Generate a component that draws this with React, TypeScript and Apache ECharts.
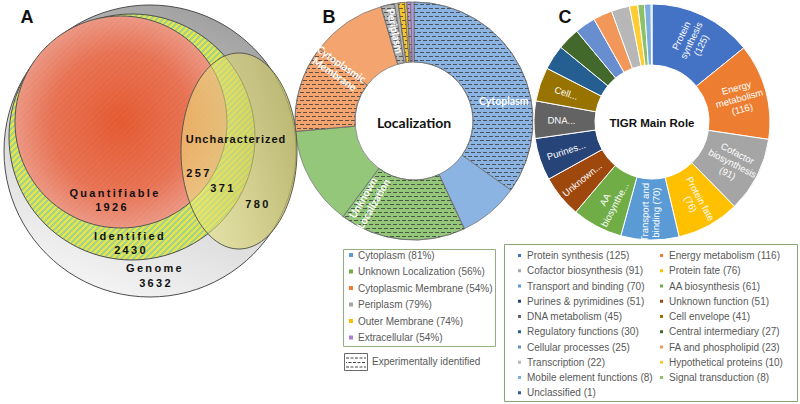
import React, { useEffect, useRef } from 'react';
import * as echarts from 'echarts';

// ---------- Panel A : Venn ----------
const VENN_NAMES = ['Genome', 'Identified', 'Quantifiable', 'Uncharacterized'];
const VENN_TOTALS = [3632, 2430, 1926];
const UNCHAR_SPLIT = [257, 371, 780];

// ---------- Panel B : Localization ----------
const LOC_NAMES = ['Cytoplasm', 'Unknown Localization', 'Cytoplasmic Membrane', 'Periplasm', 'Outer Membrane', 'Extracellular'];
const LOC_LABELS = ['Cytoplasm', 'Unknown\nLocalization', 'Cytoplasmic\nMembrane', 'Periplasm', '', ''];
const LOC_PCT = [81, 56, 54, 79, 74, 54];
const LOC_IDENTIFIED = [1267, 622, 430, 67, 31, 19];
const LOC_UNIDENTIFIED = [297, 488, 367, 18, 11, 16];
const LOC_COLORS = ['#8cb4e2', '#95c77a', '#f4a46e', '#b3b3b3', '#f7c52a', '#b79bd8'];
const LOC_LEGEND_COLORS = ['#5b9bd5', '#70ad47', '#ed7d31', '#a5a5a5', '#ffc000', '#a97fd0'];

// ---------- Panel C : TIGR main role (pie order) ----------
const ROLE_NAMES = ['Protein synthesis', 'Energy metabolism', 'Cofactor biosynthesis', 'Protein fate', 'Transport and binding', 'AA biosynthesis', 'Unknown function', 'Purines & pyrimidines', 'DNA metabolism', 'Cell envelope', 'Regulatory functions', 'Central intermediary', 'Cellular processes', 'FA and phospholipid', 'Transcription', 'Hypothetical proteins', 'Signal transduction', 'Mobile element functions', 'Unclassified'];
const ROLE_COUNTS = [125, 116, 91, 76, 70, 61, 51, 51, 45, 41, 30, 27, 25, 23, 22, 10, 8, 8, 1];
const ROLE_COLORS = ['#4472c4', '#ed7d31', '#a5a5a5', '#ffc000', '#5b9bd5', '#70ad47', '#9e480e', '#264478', '#636363', '#997300', '#255e91', '#43682b', '#698ed0', '#f1975a', '#b7b7b7', '#ffcd33', '#8cc168', '#7cafdd', '#335aa1'];
const ROLE_LABELS = ['Protein\nsynthesis\n(125)', 'Energy\nmetabolism\n(116)', 'Cofactor\nbiosynthesis\n(91)', 'Protein fate\n(76)', 'Transport and\nbinding (70)', 'AA\nbiosynthe...', 'Unknown...', 'Purines...', 'DNA...', 'Cell...', '', '', '', '', '', '', '', '', ''];
const ROLE_LEGEND_ORDER = ['Protein synthesis', 'Energy metabolism', 'Cofactor biosynthesis', 'Protein fate', 'Transport and binding', 'AA biosynthesis', 'Purines & pyrimidines', 'Unknown function', 'DNA metabolism', 'Cell envelope', 'Regulatory functions', 'Central intermediary', 'Cellular processes', 'FA and phospholipid', 'Transcription', 'Hypothetical proteins', 'Mobile element functions', 'Signal transduction', 'Unclassified'];

const roleName = (n: string) => `${n} (${ROLE_COUNTS[ROLE_NAMES.indexOf(n)]})`;
const locName = (i: number) => `${LOC_NAMES[i]} (${LOC_PCT[i]}%)`;

export default function App() {
  const ref = useRef<HTMLDivElement>(null);

  useEffect(() => {
    document.body.style.margin = '0';
    const el = ref.current!;
    const chart = echarts.init(el, null, { renderer: 'svg' });

    // stripe pattern for "Identified"
    const cv = document.createElement('canvas');
    cv.width = 6; cv.height = 6;
    const ctx = cv.getContext('2d')!;
    const img = ctx.createImageData(6, 6);
    for (let y = 0; y < 6; y++) {
      for (let x = 0; x < 6; x++) {
        const i = (y * 6 + x) * 4;
        const g = (x + y) % 6 < 3;
        img.data[i] = g ? 165 : 232;
        img.data[i + 1] = g ? 210 : 230;
        img.data[i + 2] = g ? 142 : 70;
        img.data[i + 3] = 255;
      }
    }
    ctx.putImageData(img, 0, 0);
    const stripe: any = { image: cv, repeat: 'repeat', imageWidth: 6, imageHeight: 6 };

    const hatch: any = {
      symbol: 'rect', symbolSize: 1,
      dashArrayX: [[4, 2], [1, 2, 3, 0]], dashArrayY: [1, 3],
      color: 'rgba(50,50,50,0.75)', rotation: 0,
    };

    const txt = (text: string, x: number, y: number, size: number, extra: any = {}) => ({
      type: 'text', z: 50,
      style: {
        text, x, y, fontSize: size, fontWeight: 'bold', fontFamily: 'Liberation Sans, Arial',
        fill: '#111', align: 'center', verticalAlign: 'middle', textAlign: 'center', textVerticalAlign: 'middle', ...extra,
      },
    });

    const genomeGrad = { type: 'linear', x: 0.75, y: 0, x2: 0.35, y2: 1, colorStops: [{ offset: 0, color: '#9c9c9c' }, { offset: 0.55, color: '#d4d4d4' }, { offset: 1, color: '#f4f4f4' }] };
    const redGrad = { type: 'radial', x: 0.5, y: 0.5, r: 0.55, colorStops: [{ offset: 0, color: '#e8492a' }, { offset: 0.6, color: '#ec6552' }, { offset: 1, color: '#f29a98' }] };
    const ellGrad = { type: 'linear', x: 0, y: 0, x2: 1, y2: 0, colorStops: [{ offset: 0, color: 'rgba(242,238,130,0.5)' }, { offset: 1, color: 'rgba(190,185,90,0.72)' }] };

    const graphics: any[] = [
      { type: 'circle', z: 1, shape: { cx: 150, cy: 151, r: 146 }, style: { fill: genomeGrad, stroke: '#4d4d4d', lineWidth: 1 } },
      { type: 'circle', z: 2, shape: { cx: 132, cy: 137, r: 123 }, style: { fill: stripe, stroke: '#4d4d4d', lineWidth: 1 } },
      { type: 'circle', z: 3, shape: { cx: 121, cy: 122, r: 106 }, style: { fill: redGrad, stroke: '#4d4d4d', lineWidth: 1 } },
      { type: 'circle', z: 4, shape: { cx: 121, cy: 122, r: 106 }, style: { fill: stripe, opacity: 0.12 } },
      { type: 'ellipse', z: 5, shape: { cx: 239, cy: 151, rx: 58, ry: 98 }, style: { fill: ellGrad, stroke: '#5a5a4a', lineWidth: 1 } },
      txt(VENN_NAMES[3], 236, 139, 11),
      txt(String(UNCHAR_SPLIT[0]), 199, 173, 11),
      txt(String(UNCHAR_SPLIT[1]), 223, 188, 11),
      txt(String(UNCHAR_SPLIT[2]), 258, 204, 11),
      txt(VENN_NAMES[2], 115, 193, 11),
      txt(String(VENN_TOTALS[2]), 112, 207, 11),
      txt(VENN_NAMES[1], 130, 236, 11),
      txt(String(VENN_TOTALS[1]), 131, 250, 11),
      txt(VENN_NAMES[0], 155, 268, 11),
      txt(String(VENN_TOTALS[0]), 156, 283, 11),
      txt('A', 27, 17, 18),
      txt('B', 329, 17, 18),
      txt('C', 565, 17, 18),
      txt('Localization', 414, 122, 14, { fontFamily: 'Lato' }),
      txt('TIGR Main Role', 652, 123, 11.5),
      // legend boxes
      { type: 'rect', z: 1, shape: { x: 343.5, y: 249.5, width: 152, height: 97 }, style: { fill: 'none', stroke: '#93ae7f', lineWidth: 1 } },
      { type: 'rect', z: 1, shape: { x: 504.5, y: 244.5, width: 293, height: 157 }, style: { fill: 'none', stroke: '#87a572', lineWidth: 1 } },
      // experimentally identified icon
      { type: 'rect', z: 1, shape: { x: 344.5, y: 353.5, width: 23, height: 17 }, style: { fill: '#fff', stroke: '#444', lineWidth: 0.8 } },
      { type: 'line', z: 2, shape: { x1: 346, y1: 358, x2: 366, y2: 358 }, style: { stroke: '#444', lineWidth: 1, lineDash: [3, 1.5] } },
      { type: 'line', z: 2, shape: { x1: 346, y1: 362.5, x2: 366, y2: 362.5 }, style: { stroke: '#444', lineWidth: 1, lineDash: [3, 1.5], lineDashOffset: 2 } },
      { type: 'line', z: 2, shape: { x1: 346, y1: 367, x2: 366, y2: 367 }, style: { stroke: '#444', lineWidth: 1, lineDash: [3, 1.5] } },
      { type: 'text', z: 2, style: { text: 'Experimentally identified', x: 372, y: 361, fontSize: 10, fontFamily: 'Liberation Sans, Arial', fill: '#595959', align: 'left', verticalAlign: 'middle', textAlign: 'left', textVerticalAlign: 'middle' } },
    ];

    const locData: any[] = [];
    LOC_NAMES.forEach((n, i) => {
      locData.push({ name: `${n} identified`, value: LOC_IDENTIFIED[i], itemStyle: { color: LOC_COLORS[i], decal: hatch } });
      locData.push({ name: `${n} not identified`, value: LOC_UNIDENTIFIED[i], itemStyle: { color: LOC_COLORS[i] } });
    });

    const legendText = { fontSize: 10, lineHeight: 12, color: '#595959', fontFamily: 'Liberation Sans, Arial' };

    chart.setOption({
      animation: false,
      backgroundColor: '#fff',
      graphic: graphics,
      legend: [
        {
          id: 'legB', orient: 'vertical', left: 349, top: 249, itemWidth: 4, itemHeight: 4, itemGap: 4.5,
          icon: 'rect', selectedMode: false, padding: 0, textStyle: legendText,
          data: LOC_NAMES.map((_, i) => ({ name: locName(i), itemStyle: { color: LOC_LEGEND_COLORS[i] } })),
        },
        {
          id: 'legC1', orient: 'vertical', left: 516, top: 249.5, itemWidth: 5, itemHeight: 5, itemGap: 3.25,
          icon: 'rect', selectedMode: false, padding: 0, textStyle: legendText,
          data: ROLE_LEGEND_ORDER.filter((_, i) => i % 2 === 0).map(roleName),
        },
        {
          id: 'legC2', orient: 'vertical', left: 658, top: 249.5, itemWidth: 5, itemHeight: 5, itemGap: 3.25,
          icon: 'rect', selectedMode: false, padding: 0, textStyle: legendText,
          data: ROLE_LEGEND_ORDER.filter((_, i) => i % 2 === 1).map(roleName),
        },
      ],
      series: [
        {
          type: 'pie', id: 'loc', radius: [59, 119], center: [414, 121], startAngle: 90, clockwise: true,
          avoidLabelOverlap: false, silent: true, z: 2,
          itemStyle: { borderColor: '#6e6e6e', borderWidth: 0.7 },
          label: { show: false }, labelLine: { show: false }, emphasis: { disabled: true },
          data: locData,
        },
        {
          type: 'pie', id: 'locLabels', radius: [59, 119], center: [414, 121], startAngle: 90, clockwise: true,
          avoidLabelOverlap: false, silent: true, z: 5,
          itemStyle: { color: 'rgba(0,0,0,0)', borderWidth: 0 },
          label: {
            show: true, position: 'inside', rotate: 'radial', color: '#fff', fontSize: 10.5, lineHeight: 12,
            fontFamily: 'Lato', fontWeight: 'bold', formatter: (p: any) => LOC_LABELS[p.dataIndex],
          },
          labelLine: { show: false }, emphasis: { disabled: true },
          data: LOC_NAMES.map((_, i) => ({
            name: locName(i), value: LOC_IDENTIFIED[i] + LOC_UNIDENTIFIED[i],
            label: i === 0 ? { show: true, rotate: 0 } : { show: LOC_LABELS[i] !== '' },
          })),
        },
        {
          type: 'pie', id: 'role', radius: [57, 118], center: [652, 122], startAngle: 90, clockwise: true,
          avoidLabelOverlap: false, silent: true,
          itemStyle: { borderColor: '#fff', borderWidth: 1 },
          label: {
            show: true, position: 'inside', rotate: 'radial', color: '#fff', fontSize: 9.5, lineHeight: 11,
            fontFamily: 'Liberation Sans, Arial', formatter: (p: any) => ROLE_LABELS[p.dataIndex],
          },
          labelLine: { show: false }, emphasis: { disabled: true },
          data: ROLE_NAMES.map((n, i) => ({
            name: roleName(n), value: ROLE_COUNTS[i], itemStyle: { color: ROLE_COLORS[i] },
            label: { show: ROLE_LABELS[i] !== '' },
          })),
        },
      ],
    });

    const spacing: Record<string, string> = {};
    [VENN_NAMES[0], VENN_NAMES[1], VENN_NAMES[2], ...VENN_TOTALS.map(String), ...UNCHAR_SPLIT.map(String)].forEach((s) => { spacing[s] = '2.3px'; });
    spacing[VENN_NAMES[3]] = '1px';
    const applySpacing = () => {
      el.querySelectorAll('text').forEach((t) => {
        const s = (t.textContent || '').trim();
        if (spacing[s]) (t as any).style.letterSpacing = spacing[s];
      });
    };
    applySpacing();
    chart.on('finished', applySpacing);

    return () => { chart.dispose(); };
  }, []);

  return <div ref={ref} style={{ width: 800, height: 404 }} />;
}
